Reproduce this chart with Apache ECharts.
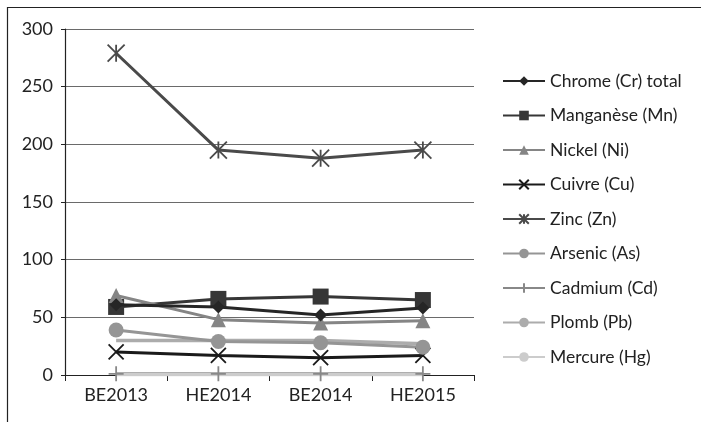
<!DOCTYPE html>
<html><head><meta charset="utf-8">
<script src="https://cdn.jsdelivr.net/npm/echarts@6/dist/echarts.min.js"></script>
<style>html,body{margin:0;padding:0;background:#fff}#c{width:701px;height:422px}</style>
</head><body><div id="c"></div>
<script>
const categories = ['BE2013','HE2014','BE2014','HE2015'];
const yTicks = [0,50,100,150,200,250,300];
const chrome = [61, 59, 52, 58];
const manganese = [59, 66, 68, 65];
const nickel = [69, 48, 45, 47];
const cuivre = [20, 17, 15, 17];
const zinc = [279, 195, 188, 195];
const arsenic = [39, 29, 28, 24];
const cadmium = [1, 1, 1, 1];
const plomb = [30, 30, 30, 27];
const mercure = [0.5, 0.5, 0.5, 0.5];

const ASTER = 'path://M0,0L10,10M10,0L0,10M5,0L5,10';
const CROSS = 'path://M0,0L10,10M10,0L0,10';
const PLUS = 'path://M5,0L5,10M0,5L10,5';

function s(name, data, color, symbol, size, opts) {
  opts = opts || {};
  return {
    name, type: 'line', data,
    symbol: symbol, symbolSize: size, showSymbol: symbol !== 'none',
    lineStyle: {color, width: opts.lw || 3},
    itemStyle: opts.stroke ? {color: 'rgba(0,0,0,0)', borderColor: color, borderWidth: 1.8} : {color},
    emphasis: {disabled: true},
    z: opts.z || 2
  };
}

const FONT = 'Lato';
const chart = echarts.init(document.getElementById('c'), null, {renderer: 'canvas'});
chart.setOption({
  animation: false,
  backgroundColor: '#fff',
  graphic: [{type: 'rect', shape: {x: 7.5, y: 7.5, width: 700, height: 420}, style: {fill: 'none', stroke: '#222', lineWidth: 1.2}}],
  grid: {left: 65, right: 227, top: 29, bottom: 47},
  xAxis: {
    type: 'category', data: categories, boundaryGap: true,
    axisLine: {lineStyle: {color: '#222', width: 1.2}},
    axisTick: {show: true, length: 6, lineStyle: {color: '#222'}},
    axisLabel: {color: '#222', fontSize: 18, fontFamily: FONT, margin: 11}
  },
  yAxis: {
    type: 'value', min: 0, max: 300, interval: 50,
    axisLine: {show: true, lineStyle: {color: '#222', width: 1.2}},
    axisTick: {show: true, length: 4, lineStyle: {color: '#222'}},
    axisLabel: {color: '#222', fontSize: 18, fontFamily: FONT, margin: 12,
      formatter: v => yTicks.includes(v) ? String(v) : ''},
    splitLine: {lineStyle: {color: '#6a6a6a', width: 1}}
  },
  legend: {
    orient: 'vertical', left: 497, top: 67, itemGap: 16.5, itemWidth: 42, itemHeight: 12,
    textStyle: {color: '#222', fontSize: 17.5, fontFamily: FONT},
    data: ['Chrome (Cr) total','Manganèse (Mn)','Nickel (Ni)','Cuivre (Cu)','Zinc (Zn)','Arsenic (As)','Cadmium (Cd)','Plomb (Pb)','Mercure (Hg)']
  },
  series: [
    s('Chrome (Cr) total', chrome, '#262626', 'diamond', 13, {z: 4}),
    s('Manganèse (Mn)', manganese, '#363636', 'rect', 16, {z: 3}),
    s('Nickel (Ni)', nickel, '#858585', 'triangle', 15, {z: 3}),
    s('Cuivre (Cu)', cuivre, '#1a1a1a', CROSS, 15, {stroke: true, z: 3}),
    s('Zinc (Zn)', zinc, '#4a4a4a', ASTER, 17, {stroke: true, z: 3}),
    s('Arsenic (As)', arsenic, '#959595', 'circle', 15, {z: 3}),
    s('Cadmium (Cd)', cadmium, '#888888', PLUS, 15, {stroke: true, z: 2}),
    s('Plomb (Pb)', plomb, '#acacac', 'none', 0, {z: 2, lw: 3.5}),
    s('Mercure (Hg)', mercure, '#cccccc', 'none', 0, {z: 2, lw: 3.5})
  ]
});
</script></body></html>
